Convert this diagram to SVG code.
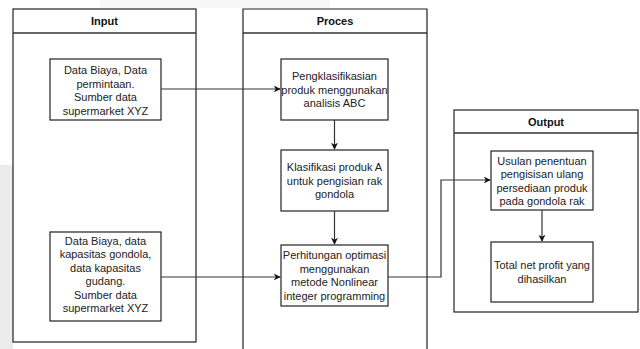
<svg xmlns="http://www.w3.org/2000/svg" width="640" height="349" viewBox="0 0 640 349">
<defs>
<style>
.panel{fill:#fff;stroke:#222;stroke-width:1.2}
.hdr{stroke:#333;stroke-width:1.5}
.box{fill:#fff;stroke:#222;stroke-width:1.2}
.ttl{font-family:"Liberation Sans",Arial,sans-serif;font-size:11px;font-weight:bold;fill:#111;text-anchor:middle}
.t{font-family:"Liberation Sans",Arial,sans-serif;font-size:11px;fill:#222;text-anchor:middle}
.c{fill:none;stroke:#333;stroke-width:1.2}
</style>
<marker id="ah" viewBox="0 0 10 10" refX="9" refY="5" markerWidth="7" markerHeight="7" markerUnits="userSpaceOnUse" orient="auto">
<path d="M0,0 L10,5 L0,10 L3,5 Z" fill="#111"/>
</marker>
</defs>
<rect width="640" height="349" fill="#fff"/>
<rect x="0" y="165" width="13" height="184" fill="#ececec"/>
<rect x="100" y="0" width="230" height="8" fill="#f7f7f7"/>

<g id="panel-input">
<rect class="panel" x="13" y="9" width="183" height="333"/>
<line class="hdr" x1="13" y1="33" x2="196" y2="33"/>
<text class="ttl" x="104.5" y="25">Input</text>
</g>
<g id="panel-proces">
<path class="panel" d="M243,349 L243,9 L427,9 L427,349"/>
<line class="hdr" x1="243" y1="33" x2="427" y2="33"/>
<text class="ttl" x="335" y="25">Proces</text>
</g>
<g id="panel-output">
<rect class="panel" x="454" y="110" width="184" height="202"/>
<line class="hdr" x1="454" y1="133" x2="638" y2="133"/>
<text class="ttl" x="546" y="126">Output</text>
</g>

<g id="in1">
<rect class="box" x="50" y="59" width="111" height="61"/>
<text class="t" x="105.5" y="74">Data Biaya, Data</text>
<text class="t" x="105.5" y="87.5">permintaan.</text>
<text class="t" x="105.5" y="101">Sumber data</text>
<text class="t" x="105.5" y="114.5">supermarket XYZ</text>
</g>
<g id="in2">
<rect class="box" x="50" y="232" width="111" height="89"/>
<text class="t" x="105.5" y="244.5">Data Biaya, data</text>
<text class="t" x="105.5" y="258">kapasitas gondola,</text>
<text class="t" x="105.5" y="271.5">data kapasitas</text>
<text class="t" x="105.5" y="285">gudang.</text>
<text class="t" x="105.5" y="298.5">Sumber data</text>
<text class="t" x="105.5" y="312">supermarket XYZ</text>
</g>
<g id="p1">
<rect class="box" x="281" y="59" width="107" height="61"/>
<text class="t" x="334.5" y="80">Pengklasifikasian</text>
<text class="t" x="334.5" y="93.5">produk menggunakan</text>
<text class="t" x="334.5" y="107">analisis ABC</text>
</g>
<g id="p2">
<rect class="box" x="281" y="150" width="107" height="61"/>
<text class="t" x="334.5" y="171">Klasifikasi produk A</text>
<text class="t" x="334.5" y="184.5">untuk pengisian rak</text>
<text class="t" x="334.5" y="198">gondola</text>
</g>
<g id="p3">
<rect class="box" x="281" y="245" width="107" height="61"/>
<text class="t" x="334.5" y="259">Perhitungan optimasi</text>
<text class="t" x="334.5" y="272.5">menggunakan</text>
<text class="t" x="334.5" y="286">metode Nonlinear</text>
<text class="t" x="334.5" y="299.5">integer programming</text>
</g>
<g id="o1">
<rect class="box" x="491" y="151" width="102" height="59"/>
<text class="t" x="542" y="164.5">Usulan penentuan</text>
<text class="t" x="542" y="178">pengisisan ulang</text>
<text class="t" x="542" y="191.5">persediaan produk</text>
<text class="t" x="542" y="205">pada gondola rak</text>
</g>
<g id="o2">
<rect class="box" x="491" y="242" width="102" height="60"/>
<text class="t" x="542" y="269">Total net profit yang</text>
<text class="t" x="542" y="282.5">dihasilkan</text>
</g>

<g id="connectors">
<path class="c" d="M161,89 L280,89" marker-end="url(#ah)"/>
<path class="c" d="M161,277 L280,277" marker-end="url(#ah)"/>
<path class="c" d="M334.5,120 L334.5,149" marker-end="url(#ah)"/>
<path class="c" d="M334.5,211 L334.5,244" marker-end="url(#ah)"/>
<path class="c" d="M388,277 L441,277 L441,180 L490,180" marker-end="url(#ah)"/>
<path class="c" d="M542,210 L542,241" marker-end="url(#ah)"/>
</g>
</svg>
